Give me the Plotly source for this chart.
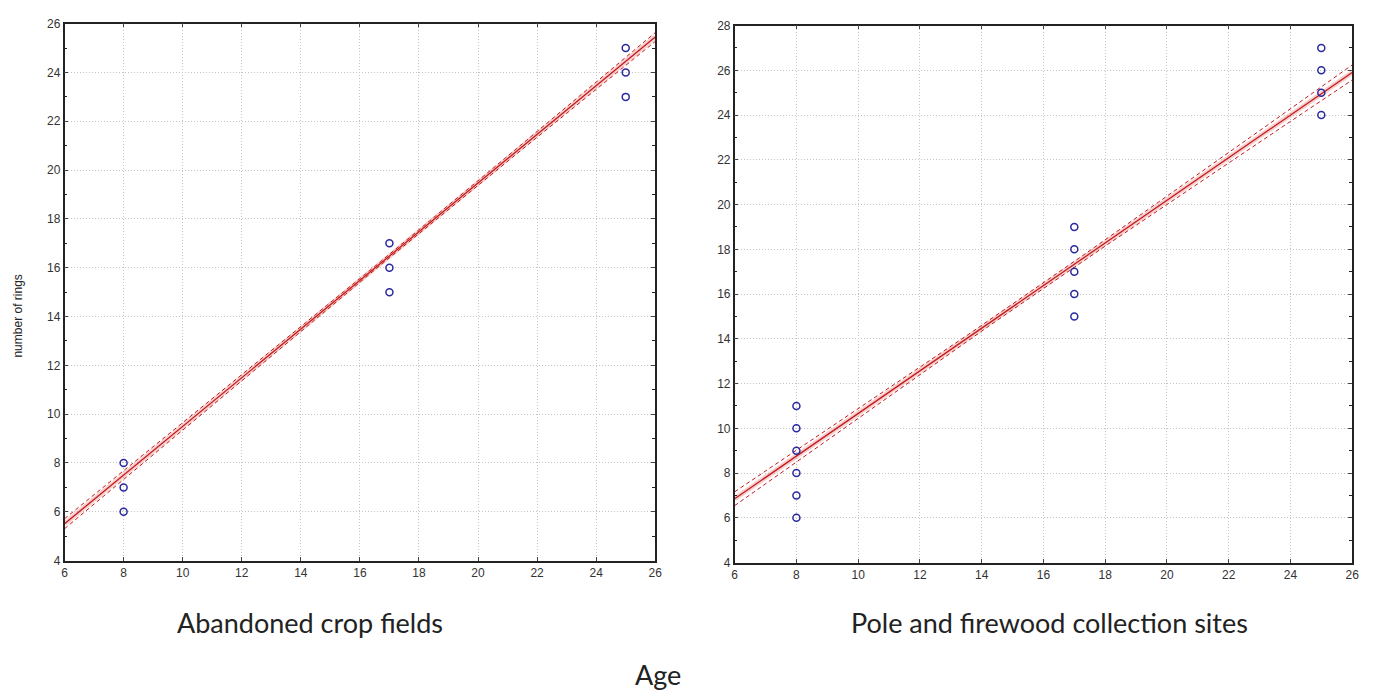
import numpy as np
import plotly.graph_objects as go

# ---- data ----
age_a = [8, 8, 8, 17, 17, 17, 25, 25, 25]
rings_a = [6, 7, 8, 15, 16, 17, 23, 24, 25]

age_b = [8, 8, 8, 8, 8, 8, 17, 17, 17, 17, 17, 25, 25, 25, 25]
rings_b = [6, 7, 8, 9, 10, 11, 15, 16, 17, 18, 19, 24, 25, 26, 27]

# regression fit (intercept, slope) and 95% band half-width params (at centre, growth)
fit_a = [-0.47, 0.997]
band_a = [0.07, 0.018]
fit_b = [1.14, 0.9525]
band_b = [0.12, 0.03]
xmean_a = 16.7
xmean_b = 15.5

x_ticks = [6, 8, 10, 12, 14, 16, 18, 20, 22, 24, 26]

xs = np.linspace(6, 26, 81)

fig = go.Figure()

RED = "#c41a1a"
BLUE = "#2a2aa0"


def add_panel(ax, ages, rings, fit, band, xm):
    xa = "x" if ax == 1 else "x2"
    ya = "y" if ax == 1 else "y2"
    yfit = fit[0] + fit[1] * xs
    hw = np.sqrt(band[0] ** 2 + (band[1] * (xs - xm)) ** 2)
    # halo
    fig.add_trace(go.Scatter(x=xs, y=yfit, mode="lines", xaxis=xa, yaxis=ya,
                             line=dict(color="rgba(230,120,120,0.35)", width=5),
                             hoverinfo="skip", showlegend=False))
    fig.add_trace(go.Scatter(x=xs, y=yfit, mode="lines", xaxis=xa, yaxis=ya,
                             line=dict(color=RED, width=1.3), showlegend=False))
    for s in (-1, 1):
        fig.add_trace(go.Scatter(x=xs, y=yfit + s * hw, mode="lines", xaxis=xa, yaxis=ya,
                                 line=dict(color=RED, width=1, dash="4px,3px"),
                                 showlegend=False))
    fig.add_trace(go.Scatter(x=ages, y=rings, mode="markers", xaxis=xa, yaxis=ya,
                             marker=dict(symbol="circle-open", size=7, color=BLUE,
                                         line=dict(width=1.5, color=BLUE)),
                             showlegend=False))


add_panel(1, age_a, rings_a, fit_a, band_a, xmean_a)
add_panel(2, age_b, rings_b, fit_b, band_b, xmean_b)

W, H = 1383, 696
TICKFONT = dict(family="Liberation Sans, Arial", size=12, color="#333")
common_x = dict(range=[6, 26], tickvals=x_ticks, ticks="inside", ticklen=4,
                showline=True, linecolor="#222", linewidth=1.5, mirror="ticks",
                showgrid=True, gridcolor="#c4c4c4", griddash="1px,2px", gridwidth=1,
                zeroline=False, tickfont=TICKFONT)
common_y = dict(ticks="inside", ticklen=4, dtick=2,
                minor=dict(ticks="inside", dtick=1, ticklen=3, tickcolor="#222", showgrid=False),
                showline=True, linecolor="#222", linewidth=1.5, mirror="ticks",
                showgrid=True, gridcolor="#c4c4c4", griddash="1px,2px", gridwidth=1,
                zeroline=False, tickfont=TICKFONT)

ANN_FONT = dict(family="Lato", size=27, color="#222")

fig.update_layout(
    width=W, height=H,
    margin=dict(l=0, r=0, t=0, b=0),
    paper_bgcolor="white", plot_bgcolor="white",
    xaxis=dict(domain=[62 / W, 657 / W], anchor="y", **common_x),
    yaxis=dict(domain=[1 - 565 / H, 1 - 17 / H], anchor="x", range=[4, 26], **common_y),
    xaxis2=dict(domain=[737 / W, 1359 / W], anchor="y2", **common_x),
    yaxis2=dict(domain=[1 - 567 / H, 1 - 19 / H], anchor="x2", range=[4, 28], **common_y),
    annotations=[
        dict(text="number of rings", x=15 / W, y=1 - 315 / H, xref="paper", yref="paper",
             xanchor="center", yanchor="middle", textangle=-90, showarrow=False,
             font=dict(family="Liberation Sans, Arial", size=12, color="#222")),
        dict(text="Abandoned crop fields", x=309 / W, y=1 - 628 / H, xref="paper", yref="paper",
             xanchor="center", yanchor="middle", showarrow=False, font=ANN_FONT),
        dict(text="Pole and firewood collection sites", x=1054 / W, y=1 - 628 / H, xref="paper", yref="paper",
             xanchor="center", yanchor="middle", showarrow=False, font=ANN_FONT),
        dict(text="Age", x=660 / W, y=1 - 681 / H, xref="paper", yref="paper",
             xanchor="center", yanchor="middle", showarrow=False, font=ANN_FONT),
    ],
)

fig.write_html("out.html")
